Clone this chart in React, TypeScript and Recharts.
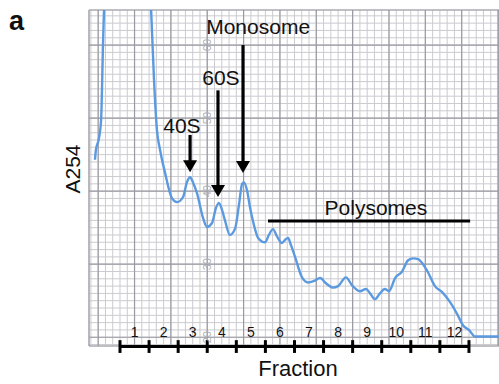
import {
  CartesianGrid,
  Line,
  LineChart,
  ReferenceDot,
  ReferenceLine,
  XAxis,
  YAxis,
} from "recharts";

// pen trace: position along the gradient in fraction units (fraction n spans n-1..n)
const tracePos = [
  -0.86, -0.83, -0.72, -0.65, -0.62, -0.59, -0.55, -0.48, 0.28, 1.0,
  1.07, 1.17, 1.27, 1.38, 1.55, 1.79, 1.96, 2.17, 2.3, 2.41,
  2.51, 2.65, 2.85, 2.99, 3.16, 3.3, 3.4, 3.51, 3.61, 3.78,
  3.96, 4.09, 4.2, 4.26, 4.37, 4.47, 4.61, 4.75, 4.99, 5.12,
  5.26, 5.4, 5.57, 5.67, 5.78, 5.88, 6.02, 6.26, 6.47, 6.67,
  6.88, 7.08, 7.33, 7.5, 7.77, 7.98, 8.25, 8.46, 8.6, 8.77,
  8.94, 9.11, 9.25, 9.46, 9.7, 9.9, 10.08, 10.25, 10.42, 10.59,
  10.83, 11.07, 11.35, 11.59, 11.8, 12.0, 12.21, 12.55, 13.03,
];
// chart-paper reading of the A254 trace
const traceA254 = [
  44.3, 45.6, 47.3, 49.7, 53.8, 59.3, 64.8, 71.6, 82.6, 70.4,
  64.8, 55.2, 48.4, 45.6, 42.5, 39.0, 38.5, 39.2, 41.2, 41.9,
  41.2, 39.7, 36.4, 35.1, 35.6, 37.7, 38.4, 37.4, 36.0, 34.0,
  34.9, 38.1, 41.0, 41.2, 40.1, 37.8, 35.3, 33.6, 33.0, 34.0,
  34.8, 33.8, 32.9, 33.3, 33.6, 32.6, 31.0, 28.2, 27.5, 27.7,
  28.1, 27.4, 26.8, 27.0, 28.2, 27.1, 26.3, 26.6, 26.0, 25.2,
  26.0, 26.6, 26.3, 28.1, 29.0, 30.5, 30.8, 30.7, 30.0, 28.9,
  27.0, 26.2, 24.8, 23.2, 21.6, 21.0, 20.1, 20.1, 20.1,
];

const fractionLabels = ["1", "2", "3", "4", "5", "6", "7", "8", "9", "10", "11", "12"];
const fractionEdges = [0, 1, 2, 3, 4, 5, 6, 7, 8, 9, 10, 11, 12];

// peak annotations
const peakNames = ["40S", "60S", "Monosome"];
const peakPos = [2.41, 3.37, 4.23];
const arrowFrom = [47.7, 53.8, 60.0];
const arrowTo = [42.6, 39.2, 42.5];
const peakLabelPos = [2.13, 3.47, 4.75];
const peakLabelA254 = [49.0, 55.6, 62.6];

const polysomeSpan = [5.09, 12.04];
const polysomeLevel = 35.9;
const polysomeLabelPos = 8.8;
const polysomeLabelA254 = 37.7;

// printed scale on the chart paper
const paperMarks = [20, 30, 40, 50, 60];
const paperMarkPos = 3;

const steps = (from: number, to: number, step: number) => {
  const out: number[] = [];
  for (let v = from; v <= to + 1e-9; v += step) out.push(Number(v.toFixed(2)));
  return out;
};
const gridXMinor = steps(-1, 13, 0.25);
const gridXMajor = steps(-0.75, 13, 1.25);
const gridYMinor = steps(19, 64, 1);

const X_DOMAIN: [number, number] = [-1.066, 13.033];
const Y_DOMAIN: [number, number] = [18.8, 64.8];
const AXIS_Y = 18.72;
const FONT = "Arial, 'Liberation Sans', sans-serif";

const data = tracePos.map((pos, i) => ({ pos, a254: traceA254[i] }));

const Arrow = (props: any) => {
  const { x1, y1, x2, y2 } = props;
  return (
    <g>
      <line x1={x1} y1={y1} x2={x2} y2={y2 - 10} stroke="#000" strokeWidth={3.2} />
      <polygon
        points={`${x2 - 7},${y2 - 12} ${x2 + 7},${y2 - 12} ${x2},${y2}`}
        fill="#000"
      />
    </g>
  );
};

export default function App() {
  return (
    <div
      style={{
        position: "absolute",
        left: 0,
        top: 0,
        width: 499,
        height: 384,
        background: "#fff",
        fontFamily: FONT,
        color: "#111",
      }}
    >
      <LineChart
        width={499}
        height={384}
        data={data}
        margin={{ top: 10, right: 0, bottom: 38, left: 89 }}
      >
        <XAxis dataKey="pos" type="number" domain={X_DOMAIN} allowDataOverflow hide />
        <XAxis xAxisId="minor" dataKey="pos" type="number" domain={X_DOMAIN} ticks={gridXMinor} interval={0} allowDataOverflow hide />
        <XAxis xAxisId="major" dataKey="pos" type="number" domain={X_DOMAIN} ticks={gridXMajor} interval={0} allowDataOverflow hide />
        <YAxis
          type="number"
          domain={Y_DOMAIN}
          allowDataOverflow
          width={0}
          tick={false}
          tickLine={false}
          axisLine={{ stroke: "#000", strokeWidth: 3.5 }}
        />
        <YAxis yAxisId="minor" type="number" domain={Y_DOMAIN} ticks={gridYMinor} interval={0} allowDataOverflow hide />
        <YAxis yAxisId="major" type="number" domain={Y_DOMAIN} ticks={paperMarks} interval={0} allowDataOverflow hide />

        <CartesianGrid xAxisId="minor" yAxisId="minor" stroke="#cbcbd0" />
        <CartesianGrid xAxisId="major" yAxisId="major" stroke="#9a9aa2" strokeWidth={1.2} />

        {paperMarks.map((v) => (
          <ReferenceDot
            key={`mark-${v}`}
            x={paperMarkPos}
            y={v}
            r={0}
            stroke="none"
            label={{ value: String(v), position: "center", angle: -90, fill: "#b0b0b6", fontSize: 11, fontFamily: FONT }}
          />
        ))}

        <Line
          dataKey="a254"
          type="monotone"
          stroke="#5b9ae0"
          strokeWidth={2.4}
          dot={false}
          isAnimationActive={false}
        />

        {peakNames.map((name, i) => (
          <ReferenceLine
            key={`arrow-${name}`}
            segment={[
              { x: peakPos[i], y: arrowFrom[i] },
              { x: peakPos[i], y: arrowTo[i] },
            ]}
            shape={Arrow}
          />
        ))}
        {peakNames.map((name, i) => (
          <ReferenceDot
            key={`label-${name}`}
            x={peakLabelPos[i]}
            y={peakLabelA254[i]}
            r={0}
            stroke="none"
            label={{ value: name, position: "center", fill: "#111", fontSize: 21, fontFamily: FONT }}
          />
        ))}

        <ReferenceLine
          segment={[
            { x: polysomeSpan[0], y: polysomeLevel },
            { x: polysomeSpan[1], y: polysomeLevel },
          ]}
          stroke="#000"
          strokeWidth={3}
        />
        <ReferenceDot
          x={polysomeLabelPos}
          y={polysomeLabelA254}
          r={0}
          stroke="none"
          label={{ value: "Polysomes", position: "center", fill: "#111", fontSize: 21, fontFamily: FONT }}
        />

        <ReferenceLine
          segment={[
            { x: fractionEdges[0], y: AXIS_Y },
            { x: fractionEdges[fractionEdges.length - 1], y: AXIS_Y },
          ]}
          stroke="#000"
          strokeWidth={3}
          ifOverflow="visible"
        />
        {fractionEdges.map((e) => (
          <ReferenceLine
            key={`edge-${e}`}
            segment={[
              { x: e, y: 19.6 },
              { x: e, y: 17.85 },
            ]}
            stroke="#000"
            strokeWidth={3}
            ifOverflow="visible"
          />
        ))}
        {fractionLabels.map((label, i) => (
          <ReferenceDot
            key={`frac-${label}`}
            x={i + 0.5}
            y={20.7}
            r={0}
            stroke="none"
            label={{ value: label, position: "center", fill: "#111", fontSize: 14, fontFamily: FONT }}
          />
        ))}
      </LineChart>

      <div
        style={{
          position: "absolute",
          left: 9,
          top: 8,
          fontSize: 27,
          fontWeight: "bold",
          lineHeight: 1,
        }}
      >
        a
      </div>
      <div
        style={{
          position: "absolute",
          left: 72,
          top: 169,
          fontSize: 21,
          lineHeight: 1,
          whiteSpace: "nowrap",
          transform: "translate(-50%, -50%) rotate(-90deg)",
        }}
      >
        A254
      </div>
      <div
        style={{
          position: "absolute",
          left: 248,
          width: 100,
          top: 358,
          fontSize: 22,
          lineHeight: 1,
          textAlign: "center",
        }}
      >
        Fraction
      </div>
    </div>
  );
}
